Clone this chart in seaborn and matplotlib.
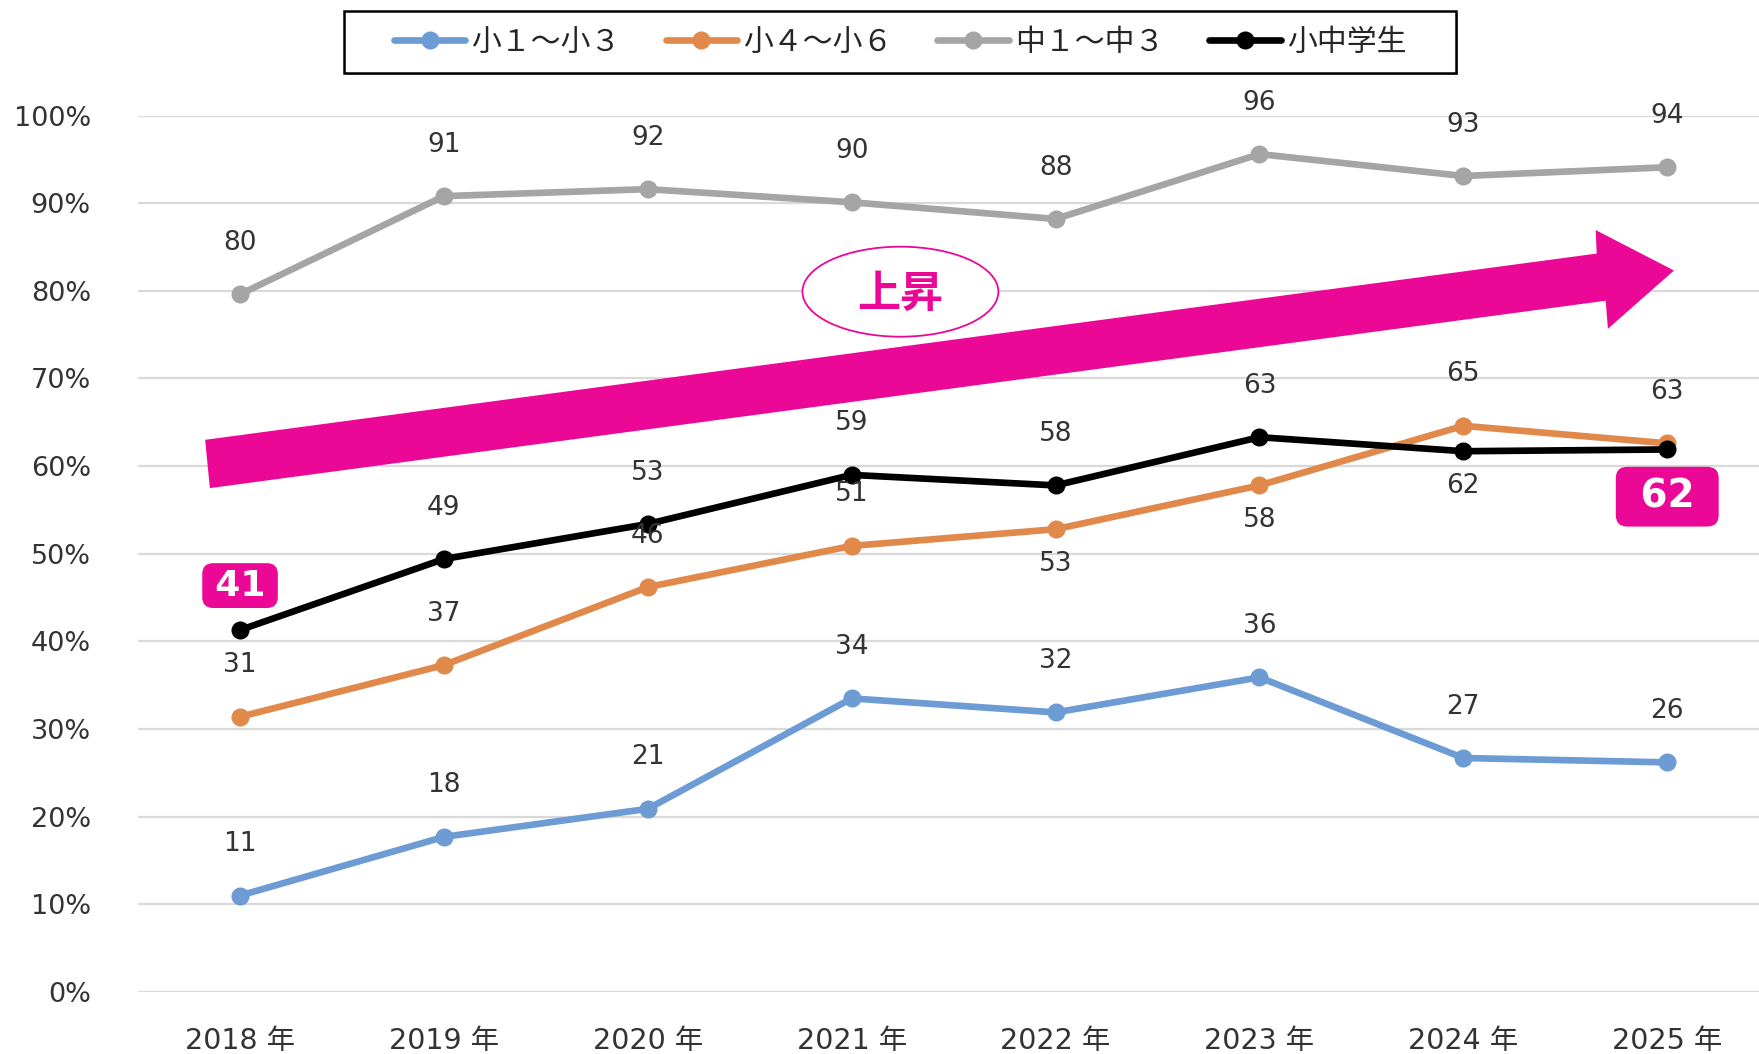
import matplotlib.pyplot as plt
import matplotlib.patches as mpatches
from matplotlib.ticker import PercentFormatter
import pandas as pd
import seaborn as sns

years = ['2018 年', '2019 年', '2020 年', '2021 年', '2022 年', '2023 年', '2024 年', '2025 年']
groups = ['小１〜小３', '小４〜小６', '中１〜中３', '小中学生']
lower = [11.0, 17.7, 20.9, 33.5, 31.9, 35.9, 26.7, 26.2]
upper = [31.4, 37.3, 46.2, 50.9, 52.8, 57.8, 64.6, 62.6]
junior = [79.6, 90.8, 91.6, 90.1, 88.2, 95.6, 93.1, 94.1]
total = [41.3, 49.4, 53.4, 59.0, 57.8, 63.3, 61.7, 61.9]
colors = ['#6D9BD3', '#E1884B', '#A5A5A5', '#000000']
pink = '#EC0896'

series = [lower, upper, junior, total]
df = pd.DataFrame({
    'year': years * len(groups),
    'group': [g for g in groups for _ in years],
    'value': [v / 100 for s in series for v in s],
})

sns.set_style('white')
plt.rcParams['font.family'] = ['DejaVu Sans', 'Noto Sans CJK JP']

fig = plt.figure(figsize=(17.59, 10.54), dpi=100)
ax = fig.add_axes([0.0785, 0.0588, 0.9215, 0.8316])

ax = sns.lineplot(data=df, x='year', y='value', hue='group', palette=colors,
                  marker='o', markersize=13, markeredgewidth=0, linewidth=4.8,
                  sort=False, ax=ax)

ax.set_ylim(0, 1.0)
ax.set_xlim(-0.5, 7.45)
ax.set_yticks([i / 10 for i in range(11)])
ax.yaxis.set_major_formatter(PercentFormatter(1.0, decimals=0))
ax.grid(axis='y', color='#D9D9D9', linewidth=1.6)
ax.grid(axis='x', visible=False)
ax.set_axisbelow(True)
for s in ax.spines.values():
    s.set_visible(False)
ax.set_xlabel('')
ax.set_ylabel('')
ax.tick_params(axis='x', length=0, pad=25, labelsize=20.5, labelcolor='#333333')
ax.tick_params(axis='y', length=0, pad=34, labelsize=19.5, labelcolor='#333333')

# data labels
below = {(1, 4), (1, 5), (3, 6)}
boxed = {(3, 0): 'above', (3, 7): 'below'}
for si, s in enumerate(series):
    for i, v in enumerate(s):
        if (si, i) in boxed:
            continue
        dy = -25 if (si, i) in below else 37
        ax.annotate(f'{round(v)}', (i, v / 100), xytext=(0, dy), textcoords='offset points',
                    ha='center', va='center', fontsize=19, color='#333333')

for (si, i), pos in boxed.items():
    v = series[si][i]
    if pos == 'below':
        txt, dy, fs, pad = f' {round(v)} ', -34, 28, 0.28
    else:
        txt, dy, fs, pad = f'\u2009{round(v)}\u2009', 32, 26, 0.15
    ax.annotate(txt, (i, v / 100), xytext=(0, dy),
                textcoords='offset points', ha='center', va='center',
                fontsize=fs, fontweight='bold', color='white', zorder=6,
                bbox=dict(boxstyle=f'round,pad={pad},rounding_size=0.3', fc=pink, ec='none'))

# rising arrow
arrow = mpatches.Polygon([(-0.171, 0.630), (6.654, 0.8425), (6.649, 0.8693), (7.033, 0.8232),
                          (6.709, 0.7567), (6.698, 0.7887), (-0.148, 0.5749)],
                         closed=True, fc=pink, ec='none', zorder=3)
ax.add_patch(arrow)
ell = mpatches.Ellipse((3.239, 0.799), 0.961, 0.1027, fc='white', ec=pink, lw=1.3, zorder=4)
ax.add_patch(ell)
ax.text(3.239, 0.797, '上昇', ha='center', va='center', fontsize=31, fontweight='bold',
        color=pink, family=['Noto Sans CJK JP'], zorder=5)

# legend, with its own frame box
handles, labels = ax.get_legend_handles_labels()
if ax.get_legend() is not None:
    ax.get_legend().remove()
box_x, box_y, box_w, box_h = 344 / 1759, 1 - 73 / 1054, 1112 / 1759, 62 / 1054
fig.patches.append(mpatches.Rectangle((box_x + 0.0012, box_y - 0.002), box_w, box_h,
                                      transform=fig.transFigure, fc='#9A9A9A', ec='none', zorder=0))
fig.patches.append(mpatches.Rectangle((box_x, box_y), box_w, box_h, transform=fig.transFigure,
                                      fc='white', ec='black', lw=1.8, zorder=1))
leg = fig.legend(handles, labels, loc='center', bbox_to_anchor=(0.5117, 0.960), ncol=4,
                 fontsize=21.5, frameon=False,
                 handlelength=2.4, handletextpad=0.2, columnspacing=1.5,
                 borderaxespad=0)
for t in leg.get_texts():
    t.set_color('#262626')
    t.set_family(['Noto Sans CJK JP'])

fig.savefig('out.png', dpi=100)
